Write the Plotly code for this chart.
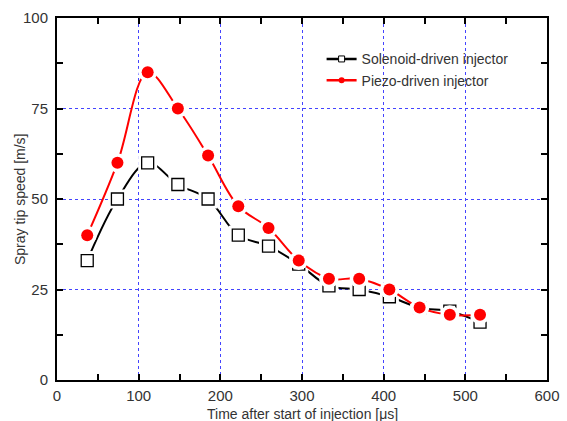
import plotly.graph_objects as go

time_us = [37, 74, 111, 148, 185, 222, 259, 296, 333, 370, 407, 444, 481, 518]
solenoid = [33, 50, 60, 54, 50, 40, 37, 32, 26, 25, 23, 20, 19, 16]
piezo = [40, 60, 85, 75, 62, 48, 42, 33, 28, 28, 25, 20, 18, 18]

x_title = "Time after start of injection [μs]"
y_title = "Spray tip speed [m/s]"

series = [
    ("Solenoid-driven injector", solenoid, "black", "square", 12, "white", 1.3),
    ("Piezo-driven injector", piezo, "#ff0000", "circle", 12, "#ff0000", 0),
]

FONT = "Liberation Sans, Arial"
TXT = "#333333"

fig = go.Figure()
for name, vals, col, sym, size, fill, lw in series:
    fig.add_trace(go.Scatter(x=time_us, y=vals, mode="lines",
                             line=dict(color=col, width=2, shape="spline", smoothing=1),
                             showlegend=False, hoverinfo="skip"))
    fig.add_trace(go.Scatter(x=time_us, y=vals, mode="markers",
                             marker=dict(symbol=sym, size=size + 7, color="white",
                                         line=dict(width=0)),
                             showlegend=False, hoverinfo="skip"))
    fig.add_trace(go.Scatter(x=time_us, y=vals, mode="markers",
                             marker=dict(symbol=sym, size=size, color=fill,
                                         line=dict(color=col, width=lw)),
                             showlegend=False))
    fig.add_trace(go.Scatter(x=[None], y=[None], mode="lines+markers", name=name,
                             line=dict(color=col, width=2.5),
                             marker=dict(symbol=sym, size=6, color=fill,
                                         line=dict(color=col, width=1 if lw else 0))))

axis_common = dict(
    showline=True, linecolor="black", linewidth=2, mirror="ticks",
    ticks="inside", ticklen=6, tickwidth=1.5, tickcolor="black",
    showgrid=True, gridcolor="#4444ff", griddash="dot", gridwidth=1,
    zeroline=False, automargin=False,
    tickfont=dict(family=FONT, size=15, color=TXT),
)

fig.update_xaxes(range=[0, 600], dtick=100, tick0=0, ticklabelstandoff=1,
                 minor=dict(dtick=50, ticks="inside", ticklen=6, tickcolor="black",
                            showgrid=False),
                 **axis_common)
fig.update_yaxes(range=[0, 100], dtick=25, tick0=0, ticklabelstandoff=4,
                 minor=dict(dtick=12.5, ticks="inside", ticklen=6, tickcolor="black",
                            showgrid=False),
                 **axis_common)

fig.update_layout(
    width=567, height=421,
    margin=dict(l=57, r=20, t=18, b=41),
    plot_bgcolor="white", paper_bgcolor="white",
    legend=dict(x=0.54, y=0.93, xanchor="left", yanchor="top",
                bgcolor="rgba(0,0,0,0)",
                font=dict(family=FONT, size=14, color=TXT),
                tracegroupgap=0, itemwidth=30),
    annotations=[
        dict(text=x_title, xref="paper", yref="paper", x=0.5, y=-34 / 362,
             xanchor="center", yanchor="middle", showarrow=False,
             font=dict(family=FONT, size=14, color=TXT)),
        dict(text=y_title, xref="paper", yref="paper", x=-37 / 490, y=0.5,
             xanchor="center", yanchor="middle", textangle=-90, showarrow=False,
             font=dict(family=FONT, size=14, color=TXT)),
    ],
)

fig.write_html("out.html")
